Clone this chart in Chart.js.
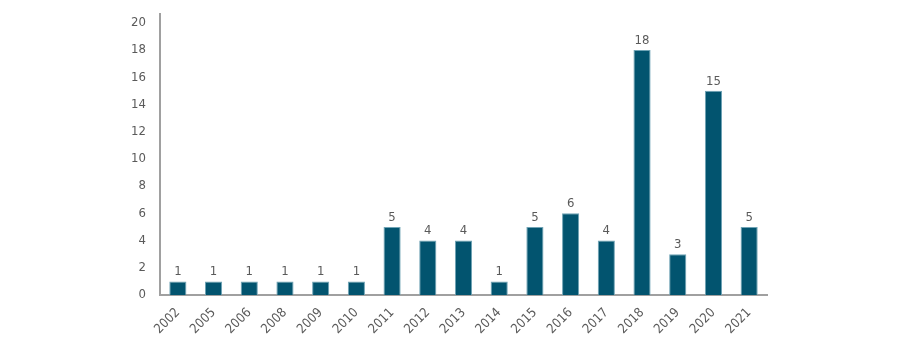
<!DOCTYPE html>
<html>
<head>
<meta charset="utf-8">
<script src="https://cdn.jsdelivr.net/npm/chart.js@4"></script>
<style>
  html, body { margin: 0; padding: 0; background: #ffffff; }
  #wrap { width: 915px; height: 358px; position: relative; }
</style>
</head>
<body>
<div id="wrap"><canvas id="c" width="915" height="358"></canvas></div>
<script>
const categories = ['2002','2005','2006','2008','2009','2010','2011','2012','2013','2014','2015','2016','2017','2018','2019','2020','2021'];
const values = [1,1,1,1,1,1,5,4,4,1,5,6,4,18,3,15,5];
const yTicks = [0,2,4,6,8,10,12,14,16,18,20];

const FONT = "'Liberation Sans Narrow', 'DejaVu Sans Condensed', 'Roboto', sans-serif";
const TEXT = '#5a5a5a';

const valueLabels = {
  id: 'valueLabels',
  afterDatasetsDraw(chart) {
    const ctx = chart.ctx;
    const meta = chart.getDatasetMeta(0);
    ctx.save();
    ctx.font = '13px ' + FONT;
    ctx.fillStyle = TEXT;
    ctx.textAlign = 'center';
    ctx.textBaseline = 'bottom';
    meta.data.forEach((bar, i) => {
      ctx.fillText(String(values[i]), bar.x, bar.y - 3);
    });
    ctx.restore();
  }
};

new Chart(document.getElementById('c'), {
  type: 'bar',
  data: {
    labels: categories,
    datasets: [{
      data: values,
      backgroundColor: '#02546f',
      borderColor: '#6fa3b5',
      borderWidth: 1,
      barPercentage: 0.48,
      categoryPercentage: 1.0
    }]
  },
  options: {
    responsive: false,
    animation: false,
    layout: { padding: { left: 0, right: 148, top: 4, bottom: 0 } },
    plugins: { legend: { display: false }, tooltip: { enabled: false } },
    scales: {
      x: {
        grid: { display: false },
        border: { display: true, color: '#a0a0a0', width: 2 },
        ticks: {
          color: TEXT,
          font: { family: FONT, size: 13 },
          maxRotation: 45, minRotation: 45,
          padding: 2
        },
        afterFit(scale) { scale.height = 63; }
      },
      y: {
        min: 0,
        max: 20.66,
        grid: { display: false },
        border: { display: true, color: '#a0a0a0', width: 2 },
        afterBuildTicks(scale) { scale.ticks = yTicks.map(v => ({ value: v })); },
        ticks: {
          color: TEXT,
          font: { family: FONT, size: 13 },
          padding: 6
        },
        afterFit(scale) { scale.width = 160; }
      }
    }
  },
  plugins: [valueLabels]
});
</script>
</body>
</html>
